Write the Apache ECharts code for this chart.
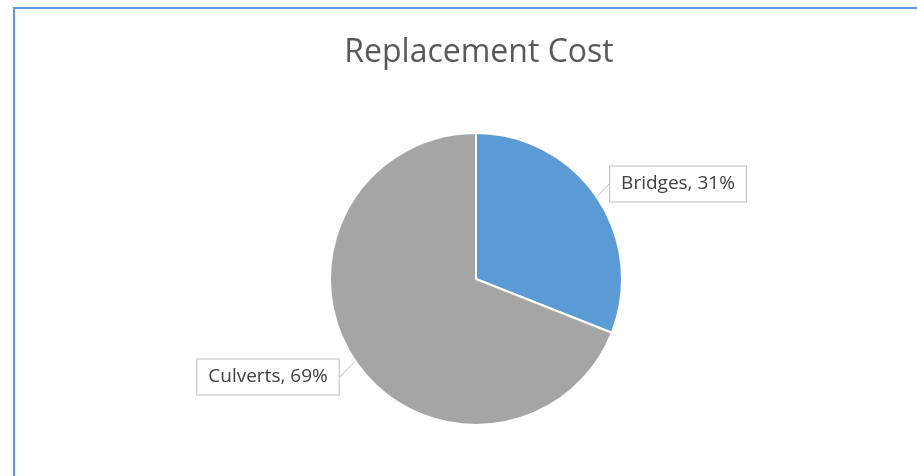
<!DOCTYPE html>
<html>
<head>
<meta charset="utf-8">
<script src="https://cdn.jsdelivr.net/npm/echarts@6/dist/echarts.min.js"></script>
<style>
  html, body { margin: 0; padding: 0; background: #fff; }
  #chart { width: 917px; height: 476px; }
</style>
</head>
<body>
<div id="chart"></div>
<script>
// Share of replacement cost by structure type
const categories = ['Bridges', 'Culverts'];
const shares = [31, 69];
const sliceColors = ['#5B9BD5', '#A5A5A5'];

const labelAnchors = {
  Bridges: [678, 184],
  Culverts: [268, 377]
};

const chart = echarts.init(document.getElementById('chart'), null, { renderer: 'canvas' });

chart.setOption({
  animation: false,
  backgroundColor: '#ffffff',
  title: {
    text: 'Replacement Cost',
    left: 474,
    textAlign: 'center',
    top: 32,
    textStyle: {
      fontFamily: 'Open Sans',
      fontSize: 32,
      fontWeight: 'normal',
      color: '#595959'
    }
  },
  graphic: [{
    type: 'rect',
    shape: { x: 14, y: 8, width: 1000, height: 1000 },
    style: { fill: 'none', stroke: '#5B9BD5', lineWidth: 2 },
    silent: true
  }],
  series: [{
    type: 'pie',
    center: [476, 279],
    radius: [0, 146],
    startAngle: 90,
    clockwise: true,
    data: categories.map((name, i) => ({
      name: name,
      value: shares[i],
      itemStyle: { color: sliceColors[i] }
    })),
    itemStyle: { borderColor: '#ffffff', borderWidth: 2 },
    label: {
      show: true,
      formatter: p => p.name + ', ' + p.value + '%',
      fontFamily: 'Open Sans',
      fontSize: 19,
      color: '#404040',
      backgroundColor: '#ffffff',
      borderColor: '#bfbfbf',
      borderWidth: 1,
      padding: [8, 11, 8, 11]
    },
    labelLine: {
      show: true,
      length: 6,
      length2: 0,
      lineStyle: { color: '#bfbfbf', width: 1 }
    },
    labelLayout: params => {
      const name = categories[params.dataIndex];
      const pos = labelAnchors[name];
      return { x: pos[0], y: pos[1], align: 'center', verticalAlign: 'middle' };
    },
    emphasis: { disabled: true }
  }]
});
</script>
</body>
</html>
